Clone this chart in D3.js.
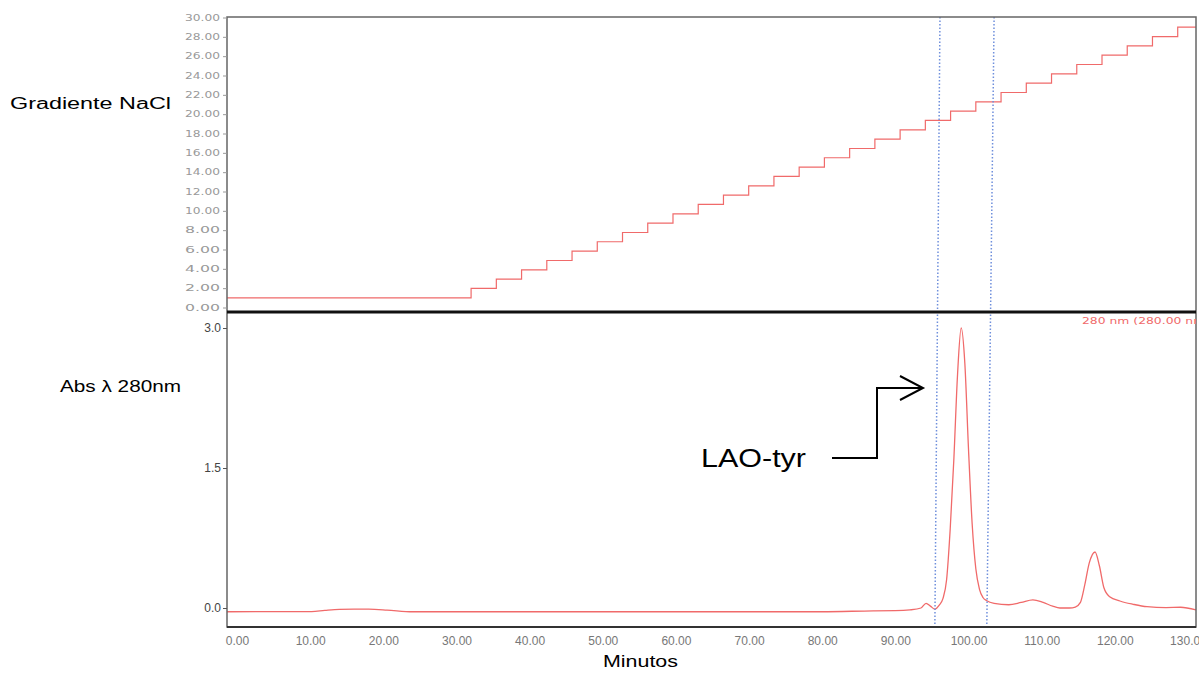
<!DOCTYPE html>
<html>
<head>
<meta charset="utf-8">
<script src="https://cdn.jsdelivr.net/npm/d3@7"></script>
<style>
  body { margin: 0; background: #fff; }
  svg { display: block; }
</style>
</head>
<body>
<script>
/* datos: gradiente NaCl (escalones) */
var gradTime = [-1.37, 32.0, 35.45, 38.9, 42.35, 45.8, 49.25, 52.7, 56.15, 59.6, 63.05, 66.5, 69.95, 73.4, 76.85,
  80.3, 83.75, 87.2, 90.65, 94.1, 97.55, 101.0, 104.45, 107.9, 111.35, 114.8, 118.25, 121.7, 125.15, 128.6, 131.1];
var gradValue = [1.0, 1.97, 2.93, 3.9, 4.86, 5.83, 6.8, 7.76, 8.73, 9.69, 10.66, 11.62, 12.59, 13.56, 14.52,
  15.49, 16.45, 17.42, 18.38, 19.35, 20.31, 21.28, 22.24, 23.21, 24.17, 25.14, 26.1, 27.07, 28.03, 29.0, 29.0];

/* datos: absorbancia 280 nm */
var absTime = [-1.37, 10.2, 12, 14, 16, 18, 20.5, 24, 40, 60, 80, 87, 90, 92, 93.5, 94.2, 94.8, 95.4, 96.0,
  96.5, 97.0, 97.5, 98.0, 98.5, 99.0, 99.5, 100.0, 100.5, 101.0, 101.5, 102.0, 102.5, 103.5, 105.5, 107.2,
  108.8, 110.2, 111.5, 112.5, 113.8, 114.6, 115.3, 115.9, 116.5, 117.3, 117.9, 118.5, 119.3, 120.7, 122.5,
  124.4, 127, 129, 131.1];
var absValue = [-0.04, -0.038, -0.025, -0.014, -0.012, -0.013, -0.022, -0.04, -0.04, -0.04, -0.04, -0.03,
  -0.028, -0.02, 0.0, 0.05, 0.02, -0.012, 0.03, 0.1, 0.3, 0.85, 1.6, 2.5, 3.0, 2.62, 1.7, 0.9, 0.42, 0.2,
  0.11, 0.078, 0.05, 0.035, 0.06, 0.088, 0.06, 0.02, 0.0, 0.0, 0.01, 0.06, 0.25, 0.48, 0.6, 0.45, 0.22, 0.12,
  0.075, 0.04, 0.014, 0.005, 0.008, -0.02];

/* marcas: lineas punteadas (arriba, abajo) */
var markTop = [96.1, 103.5];
var markBottom = [95.4, 102.5];

/* ticks */
var xTicks = [0, 10, 20, 30, 40, 50, 60, 70, 80, 90, 100, 110, 120, 130];
var gradTicks = [0, 2, 4, 6, 8, 10, 12, 14, 16, 18, 20, 22, 24, 26, 28, 30];
var absTicks = [0, 1.5, 3.0];

var W = 1199, H = 677;
var left = 227, right = 1196;
var topY0 = 17, topY1 = 312, botY1 = 627;

var svg = d3.select('body').append('svg')
  .attr('width', W)
  .attr('height', H);

var x = d3.scaleLinear().domain([-1.37, 131.1]).range([left, right]);
var yGrad = d3.scaleLinear().domain([0, 30]).range([307.5, 17.5]);
var yAbs = d3.scaleLinear().domain([0, 3]).range([608, 328]);

svg.append('clipPath').attr('id', 'clip')
  .append('rect').attr('x', left).attr('y', topY0).attr('width', right - left).attr('height', botY1 - topY0);

/* panel superior */
svg.append('path')
  .datum(gradTime.map(function (t, i) { return [t, gradValue[i]]; }))
  .attr('clip-path', 'url(#clip)')
  .attr('fill', 'none')
  .attr('stroke', '#f06a6a')
  .attr('stroke-width', 1.2)
  .attr('d', d3.line().curve(d3.curveStepAfter)
    .x(function (d) { return x(d[0]); })
    .y(function (d) { return yGrad(d[1]); }));

/* panel inferior */
svg.append('path')
  .datum(absTime.map(function (t, i) { return [t, absValue[i]]; }))
  .attr('clip-path', 'url(#clip)')
  .attr('fill', 'none')
  .attr('stroke', '#f06a6a')
  .attr('stroke-width', 1.3)
  .attr('d', d3.line().curve(d3.curveMonotoneX)
    .x(function (d) { return x(d[0]); })
    .y(function (d) { return yAbs(d[1]); }));

/* lineas punteadas azules */
markTop.forEach(function (t, i) {
  svg.append('line')
    .attr('x1', x(t)).attr('y1', topY0)
    .attr('x2', x(markBottom[i])).attr('y2', botY1)
    .attr('stroke', '#6f8fdc')
    .attr('stroke-width', 1.5)
    .attr('stroke-dasharray', '1.5,2');
});

/* marcos */
svg.append('rect')
  .attr('x', left).attr('y', topY0)
  .attr('width', right - left).attr('height', botY1 - topY0)
  .attr('fill', 'none')
  .attr('stroke', '#666')
  .attr('stroke-width', 1.5);
svg.append('line')
  .attr('x1', left).attr('x2', right)
  .attr('y1', topY1).attr('y2', topY1)
  .attr('stroke', '#111')
  .attr('stroke-width', 3);
svg.append('line')
  .attr('x1', left).attr('x2', right)
  .attr('y1', botY1).attr('y2', botY1)
  .attr('stroke', '#333')
  .attr('stroke-width', 2);

/* ejes */
var gGrad = svg.append('g')
  .attr('transform', 'translate(' + left + ',0)')
  .call(d3.axisLeft(yGrad).tickValues(gradTicks).tickFormat(d3.format('.2f')).tickSize(4).tickPadding(3));
gGrad.select('.domain').remove();
gGrad.selectAll('line').attr('stroke', '#999');
gGrad.selectAll('text')
  .attr('fill', '#999')
  .attr('textLength', 35)
  .attr('lengthAdjust', 'spacingAndGlyphs')
  .style('font-family', 'DejaVu Sans, sans-serif')
  .style('font-size', '8.5px');

var gAbs = svg.append('g')
  .attr('transform', 'translate(' + left + ',0)')
  .call(d3.axisLeft(yAbs).tickValues(absTicks).tickFormat(d3.format('.1f')).tickSize(4).tickPadding(2));
gAbs.select('.domain').remove();
gAbs.selectAll('line').attr('stroke', '#555');
gAbs.selectAll('text')
  .attr('fill', '#444')
  .style('font-family', 'Liberation Sans Narrow, Arial, sans-serif')
  .style('font-size', '12px');

var gX = svg.append('g')
  .attr('transform', 'translate(0,' + botY1 + ')')
  .call(d3.axisBottom(x).tickValues(xTicks).tickFormat(d3.format('.2f')).tickSize(0).tickPadding(9));
gX.select('.domain').remove();
gX.selectAll('text')
  .attr('fill', '#777')
  .style('font-family', 'Liberation Sans Narrow, Arial, sans-serif')
  .style('font-size', '12px');

/* etiqueta roja */
svg.append('text')
  .attr('clip-path', 'url(#clip)')
  .attr('x', 1082).attr('y', 324)
  .attr('fill', '#f06a6a')
  .attr('textLength', 128)
  .attr('lengthAdjust', 'spacingAndGlyphs')
  .style('font-family', 'DejaVu Sans, sans-serif')
  .style('font-size', '8px')
  .text('280 nm (280.00 nm)');

/* textos */
svg.append('text')
  .attr('x', 10).attr('y', 109)
  .attr('textLength', 161)
  .attr('lengthAdjust', 'spacingAndGlyphs')
  .style('font-family', 'Arial, sans-serif')
  .style('font-size', '16px')
  .text('Gradiente NaCl');
svg.append('text')
  .attr('x', 60).attr('y', 392)
  .attr('textLength', 121)
  .attr('lengthAdjust', 'spacingAndGlyphs')
  .style('font-family', 'Arial, sans-serif')
  .style('font-size', '16px')
  .text('Abs λ 280nm');
svg.append('text')
  .attr('x', 603).attr('y', 667)
  .attr('textLength', 75)
  .attr('lengthAdjust', 'spacingAndGlyphs')
  .style('font-family', 'Arial, sans-serif')
  .style('font-size', '17px')
  .text('Minutos');
svg.append('text')
  .attr('x', 701).attr('y', 467)
  .attr('textLength', 105)
  .attr('lengthAdjust', 'spacingAndGlyphs')
  .style('font-family', 'Arial, sans-serif')
  .style('font-size', '25px')
  .text('LAO-tyr');

/* flecha */
svg.append('path')
  .attr('d', 'M832,458 H877 V388 H923 M900,376 L923,388 L900,400')
  .attr('fill', 'none')
  .attr('stroke', '#000')
  .attr('stroke-width', 2);
</script>
</body>
</html>
